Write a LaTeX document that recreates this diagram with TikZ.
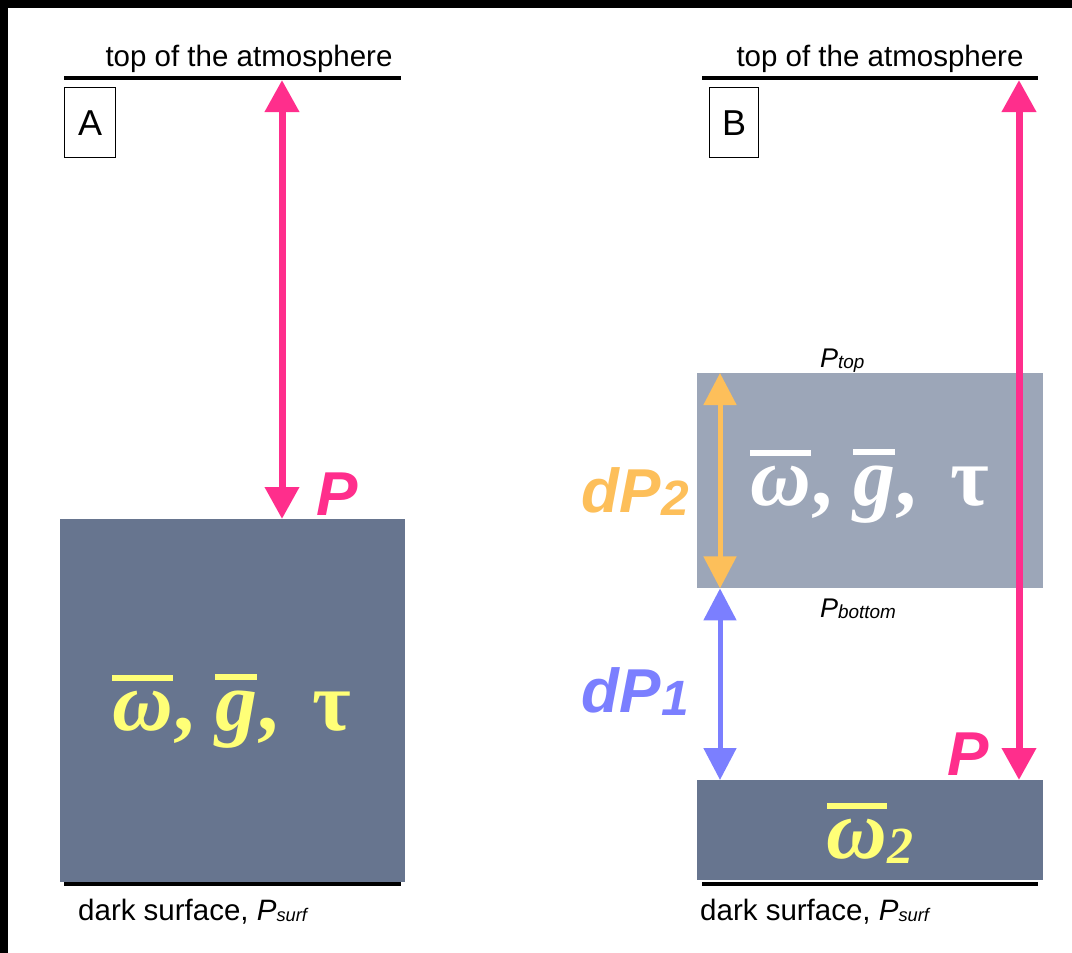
\documentclass[tikz,border=0pt]{standalone}
\usepackage{fontspec}
\setmainfont{Liberation Sans}
\newfontfamily\greekfont{Liberation Serif}
\definecolor{slabdark}{HTML}{67758F}
\definecolor{slablight}{HTML}{9CA6B8}
\definecolor{pinkP}{HTML}{FF2E8C}
\definecolor{dporange}{HTML}{FDBF5A}
\definecolor{dpblue}{HTML}{7B7FFF}
\definecolor{omyellow}{HTML}{FFFF77}
\usetikzlibrary{positioning,arrows.meta}
\newcommand{\barred}[1]{\leavevmode\vbox{\hrule height 0.07em\kern 0.12em\hbox{#1}}}
\newcommand{\lowsub}[2][0.62]{\raisebox{-0.06em}{\fontsize{#1em}{1em}\selectfont #2}}

\begin{document}
\begin{tikzpicture}[
      x=1pt, y=-1pt,
      slab/.style={rectangle, draw=none, inner sep=0pt, anchor=north west},
      panel/.style={rectangle, draw, line width=1.4pt, inner sep=0pt,
                    minimum width=51pt, minimum height=70pt, anchor=north west,
                    font=\fontsize{36}{38}\selectfont},
      surf/.style={line width=4pt},
      lbl/.style={font=\fontsize{29.5}{32}\selectfont, inner sep=0pt},
      plbl/.style={font=\fontsize{27}{30}\selectfont\itshape, inner sep=0pt, anchor=base west},
      bigp/.style={font=\fontsize{62}{64}\selectfont\bfseries\itshape, inner sep=0pt, anchor=base west},
      optics/.style={font=\fontsize{84}{86}\selectfont\greekfont\bfseries, inner sep=0pt, anchor=base},
      parrow/.style={pinkP, line width=7pt, {Triangle[width=33pt,length=32pt]}-{Triangle[width=33pt,length=32pt]}},
      darrow/.style={line width=5pt, {Triangle[width=32pt,length=32pt]}-{Triangle[width=32pt,length=32pt]}},
    ]
    \useasboundingbox (0,0) rectangle (1072,953);
    \fill (0,0) rectangle (1072,8);
    \fill (0,0) rectangle (8,953);

    % panel A
    \node[lbl, anchor=base] (toatxtA) at (249,66) {top of the atmosphere};
    \draw[surf] (64,78) -- (401,78);
    \node[panel] (boxA) at (64,87) {A};
    \node[slab, fill=slabdark, minimum width=345pt, minimum height=363pt] (slabA) at (60,519) {};
    \draw[surf] (64,884) -- (401,884);
    \node[lbl, anchor=base west] (surftxtA) at (78,920) {dark surface, \textit{P\lowsub{surf}}};
    \node[optics, omyellow] (optA) at (232,730)
      {\barred{\itshape ω}, \barred{\itshape g}, \,τ};
    \coordinate (toaA) at (282,80);
    \draw[parrow] (toaA) -- (slabA.north -| toaA);
    \node[bigp, pinkP] (pA) at (316,515) {P};

    % panel B
    \node[lbl, anchor=base] (toatxtB) at (880,66) {top of the atmosphere};
    \draw[surf] (702,78) -- (1038,78);
    \node[panel, minimum width=49pt] (boxB) at (709,87) {B};
    \node[slab, fill=slablight, minimum width=346pt, minimum height=215pt] (cloudB) at (697,373) {};
    \node[slab, fill=slabdark, minimum width=346pt, minimum height=100pt] (slabB) at (697,780) {};
    \draw[surf] (702,884) -- (1038,884);
    \node[lbl, anchor=base west] (surftxtB) at (700,920) {dark surface, \textit{P\lowsub{surf}}};
    \node[plbl] (ptop) at (820,367) {P\lowsub[0.7]{top}};
    \node[plbl] (pbot) at (820,617) {P\lowsub[0.7]{bottom}};
    \node[optics, white] (optB) at (870,505)
      {\barred{\itshape ω}, \barred{\itshape g}, \,τ};
    \node[optics, omyellow, anchor=base] (om2) at (870,858)
      {\barred{\itshape ω}\lowsub{\itshape 2}};
    \coordinate (dpx) at (720,0);
    \draw[darrow, dporange] (cloudB.north -| dpx) -- (cloudB.south -| dpx);
    \draw[darrow, dpblue] (cloudB.south -| dpx) -- (slabB.north -| dpx);
    \node[bigp, dporange, anchor=base east] (dp2) at (689,512) {dP\lowsub[0.8]{2}};
    \node[bigp, dpblue, anchor=base east] (dp1) at (689,712) {dP\lowsub[0.8]{1}};
    \coordinate (toaB) at (1019,80);
    \draw[parrow] (toaB) -- (slabB.north -| toaB);
    \node[bigp, pinkP] (pB) at (947,775) {P};
  \end{tikzpicture}
\end{document}
